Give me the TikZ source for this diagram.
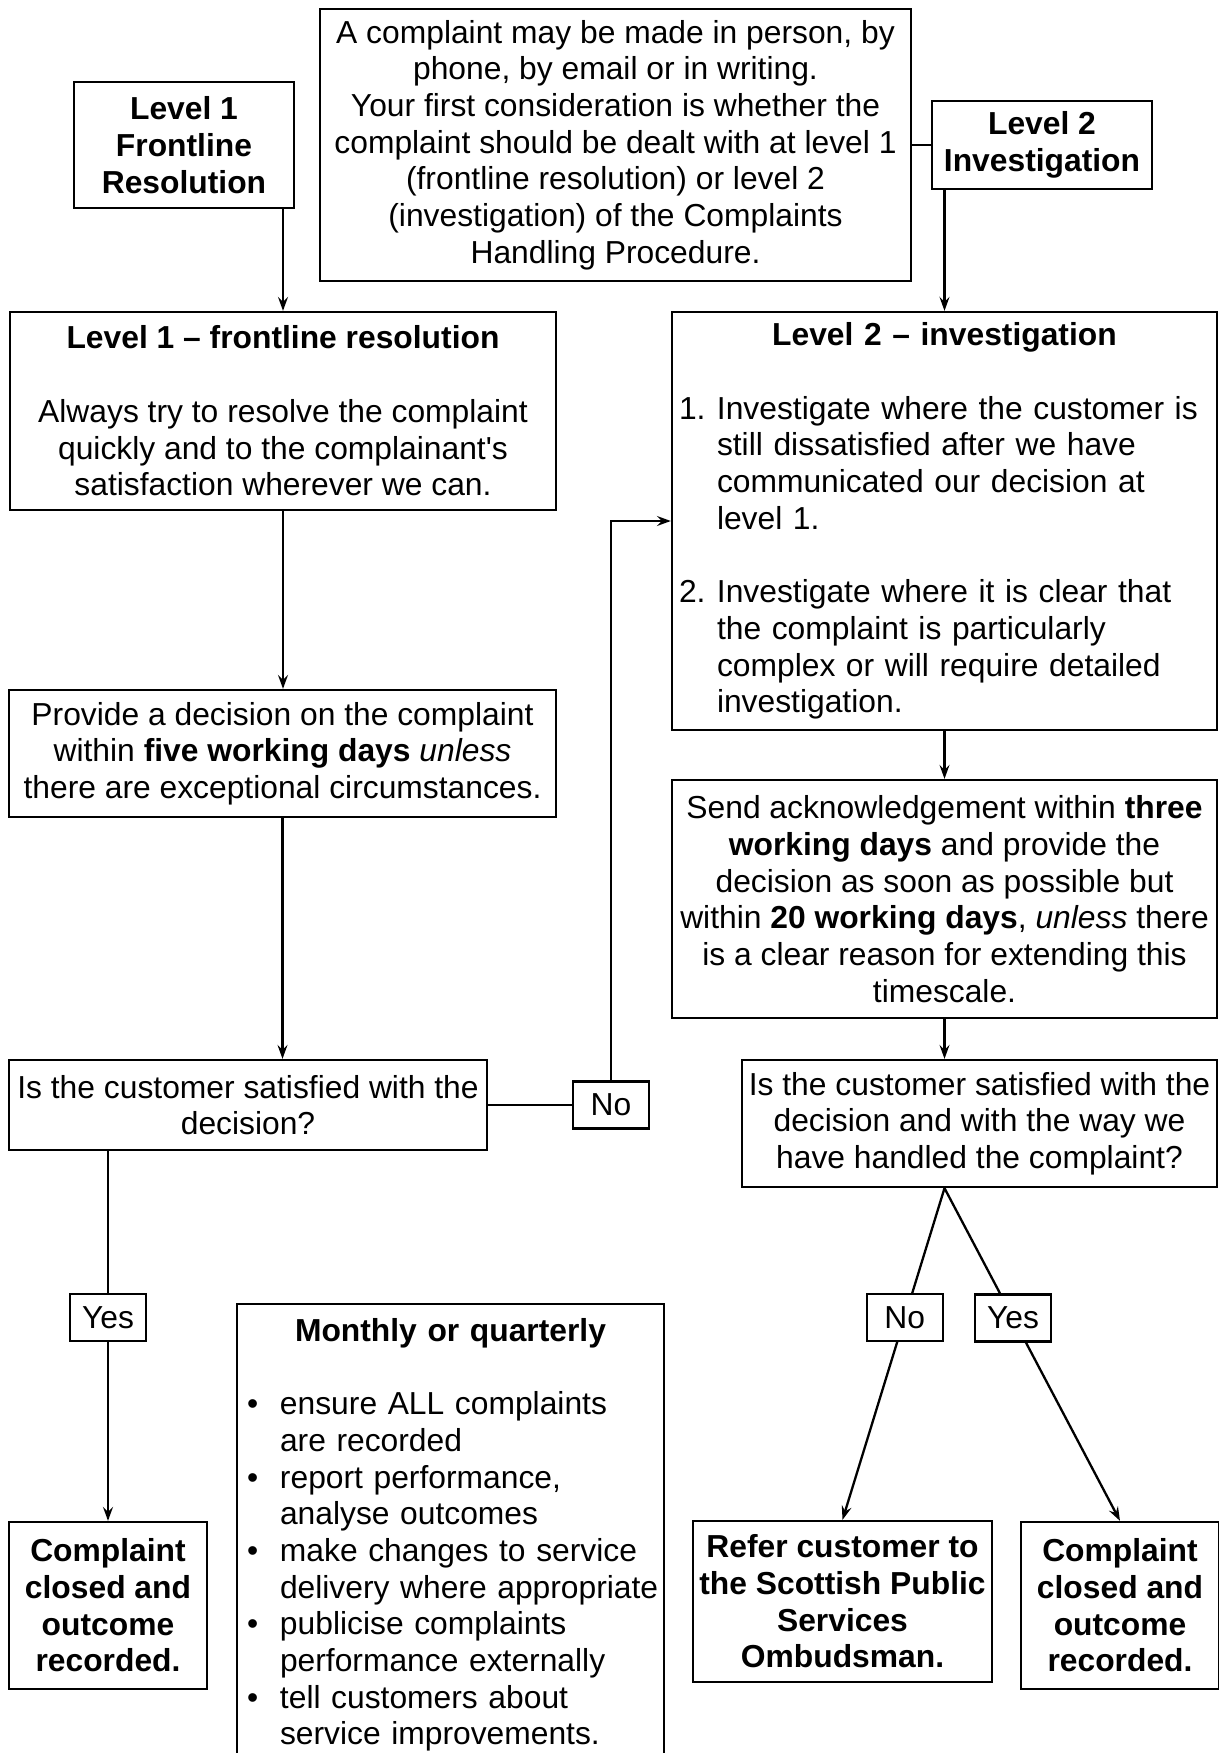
\documentclass[tikz,border=0pt]{standalone}
\usepackage{fontspec}
\setmainfont{Liberation Sans}
\usepackage{tikz}
\usetikzlibrary{arrows.meta,positioning,calc}
\newcommand{\itm}[1]{\makebox[41pt][l]{\hspace{3pt}#1}}
\newcommand{\blt}{\makebox[39pt][l]{\hspace{6pt}\textbullet}}
\newcommand{\bltin}{\makebox[39pt]{}}
\tikzset{
  box/.style={draw, line width=2.3pt, align=center, inner sep=4pt, font={\fontsize{31.8pt}{36.7pt}\selectfont}},
  headbox/.style={box, font={\fontsize{31.8pt}{36.7pt}\selectfont\bfseries}},
  answer/.style={box, fill=white, minimum width=76pt, minimum height=47pt, inner sep=2pt},
  conn/.style={line width=2.3pt},
  arrow/.style={line width=2.3pt, -{Stealth[length=14pt,width=10pt,inset=5pt]}}
}

\begin{document}
\begin{tikzpicture}[x=1pt,y=-1pt]
  \useasboundingbox (0,0) rectangle (1218,1753);

  % top row
  \node[box, minimum width=591pt, minimum height=272pt] (intro) at (615.5,145) {A complaint may be made in person, by\\ phone, by email or in writing.\\ Your first consideration is whether the\\ complaint should be dealt with at level 1\\ (frontline resolution) or level 2\\ (investigation) of the Complaints\\ Handling Procedure.};
  \node[headbox, minimum width=220pt, minimum height=126pt] (lvonehead) at (184,145) {Level 1\\ Frontline\\ Resolution};
  \node[headbox, minimum width=220pt, minimum height=88pt] (lvtwohead) at (1042,145) {Level 2\\ Investigation};

  % level 1 column
  \node[box, minimum width=546pt, minimum height=198pt] (lvone) at (283,411) {\textbf{Level 1 – frontline resolution}\\[36.7pt] Always try to resolve the complaint\\ quickly and to the complainant\textquotesingle s\\ satisfaction wherever we can.};
  \node[box, minimum width=547pt, minimum height=127pt] (provide) at (282.5,753.5) {Provide a decision on the complaint\\ within \textbf{five working days} \textit{unless}\\ there are exceptional circumstances.};
  \node[box, minimum width=478pt, minimum height=90pt] (satone) at (248,1105) {Is the customer satisfied with the\\ decision?};
  \node[answer] (noone) at (611,1105) {No};
  \node[headbox, minimum width=198pt, minimum height=167pt] (closedone) at (108,1605.5) {Complaint\\ closed and\\ outcome\\ recorded.};
  \node[box, anchor=north, text width=419pt, align=left, inner ysep=14pt] (monthly) at (450.5,1303) {\makebox[\linewidth]{\bfseries Monthly or quarterly}\\[36.7pt]
    \blt ensure ALL complaints\\ \bltin are recorded\\
    \blt report performance,\\ \bltin analyse outcomes\\
    \blt make changes to service\\ \bltin delivery where appropriate\\
    \blt publicise complaints\\ \bltin performance externally\\
    \blt tell customers about\\ \bltin service improvements.};

  % level 2 column
  \node[box, text width=537pt, align=left, minimum height=418pt] (lvtwo) at (944.5,521) {\makebox[\linewidth]{\bfseries Level 2 – investigation}\\[36.7pt]
    \itm{1.}Investigate where the customer is\\ \itm{}still dissatisfied after we have\\ \itm{}communicated our decision at\\ \itm{}level 1.\\[36.7pt]
    \itm{2.}Investigate where it is clear that\\ \itm{}the complaint is particularly\\ \itm{}complex or will require detailed\\ \itm{}investigation.};
  \node[box, minimum width=545pt, minimum height=238pt] (send) at (944.5,899) {Send acknowledgement within \textbf{three}\\ \textbf{working days} and provide the\\ decision as soon as possible but\\ within \textbf{20 working days}, \textit{unless} there\\ is a clear reason for extending this\\ timescale.};
  \node[box, minimum width=475pt, minimum height=127pt] (sattwo) at (979.5,1123.5) {Is the customer satisfied with the\\ decision and with the way we\\ have handled the complaint?};
  \node[headbox, minimum width=299pt, minimum height=161pt] (refer) at (842.5,1601.5) {Refer customer to\\ the Scottish Public\\ Services\\ Ombudsman.};
  \node[headbox, minimum width=198pt, minimum height=167pt] (closedtwo) at (1120,1605.5) {Complaint\\ closed and\\ outcome\\ recorded.};

  % connectors
  \draw[conn] (intro.east) -- (lvtwohead.west);
  \draw[arrow] (lvonehead.south -| lvone.north) -- (lvone.north);
  \draw[arrow] (lvtwohead.south -| lvtwo.north) -- (lvtwo.north);
  \draw[arrow] (lvone.south) -- (lvone.south |- provide.north);
  \draw[arrow] (provide.south) -- (provide.south |- satone.north);
  \draw[conn] (satone.east) -- (noone.west);
  \draw[arrow] (noone.north) |- (lvtwo.west);
  \draw[arrow] (satone.south -| closedone.north) -- node[answer, pos=0.45] (yesone) {Yes} (closedone.north);
  \draw[arrow] (lvtwo.south) -- (send.north);
  \draw[arrow] (send.south) -- (send.south |- sattwo.north);
  \draw[arrow] (send.south |- sattwo.south) -- node[answer, pos=0.39] (notwo) {No} (refer.north);
  \draw[arrow] (send.south |- sattwo.south) -- node[answer, pos=0.39] (yestwo) {Yes} (closedtwo.north);
\end{tikzpicture}
\end{document}
